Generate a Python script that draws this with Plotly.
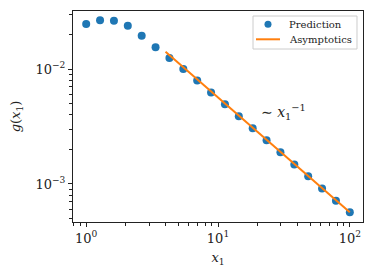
import numpy as np
import plotly.graph_objects as go

# Data
x_pred = [1.0, 1.274, 1.624, 2.069, 2.637, 3.360, 4.281, 5.456, 6.952, 8.859,
          11.29, 14.38, 18.33, 23.36, 29.76, 37.93, 48.33, 61.58, 78.48, 100.0]
y_pred = [0.0247, 0.0266, 0.0264, 0.0239, 0.0195, 0.0155, 0.01248, 0.0100, 0.00796, 0.00626,
          0.00495, 0.00389, 0.00306, 0.00240, 0.00189, 0.00148, 0.00117, 0.000912, 0.000716, 0.000566]
x_asym = [4.0, 100.0]
y_asym = [0.01415, 0.000566]

x_tickvals = [1, 10, 100]
x_ticktext = ["10<sup>0</sup>", "10<sup>1</sup>", "10<sup>2</sup>"]
y_tickvals = [1e-3, 1e-2]
y_ticktext = ["10<sup>−3</sup>", "10<sup>−2</sup>"]
legend_labels = ["Prediction", "Asymptotics"]

x_minor = [m * 10**e for e in range(-1, 3) for m in range(2, 10)]
y_minor = [m * 10**e for e in range(-4, -1) for m in range(2, 10)]

FONT = "DejaVu Serif"
BLUE = "#1f77b4"
ORANGE = "#ff7f0e"

fig = go.Figure()
fig.add_trace(go.Scatter(x=x_pred, y=y_pred, mode="markers", name=legend_labels[0],
                         marker=dict(color=BLUE, size=8), showlegend=False))
fig.add_trace(go.Scatter(x=x_asym, y=y_asym, mode="lines", name=legend_labels[1],
                         line=dict(color=ORANGE, width=2), showlegend=False))

axis_common = dict(type="log", showgrid=False, zeroline=False, showline=True, mirror=True,
                   linecolor="#222", linewidth=1.1, ticks="outside", ticklen=4, tickwidth=1,
                   tickcolor="#222", tickfont=dict(family=FONT, size=13, color="#222"))

fig.update_xaxes(**axis_common, range=[-0.1, 2.1], tickmode="array",
                 tickvals=x_tickvals, ticktext=x_ticktext,
                 minor=dict(tickmode="array", tickvals=x_minor, ticks="outside", ticklen=2.5, tickcolor="#222", tickwidth=0.8),
                 title=dict(text="<i>x</i><sub>1</sub>", font=dict(family=FONT, size=13, color="#222"), standoff=8))
fig.update_yaxes(**axis_common, range=[-3.331, -1.494], tickmode="array",
                 tickvals=y_tickvals, ticktext=y_ticktext,
                 minor=dict(tickmode="array", tickvals=y_minor, ticks="outside", ticklen=2.5, tickcolor="#222", tickwidth=0.8),
                 title=dict(text="<i>g</i>(<i>x</i><sub>1</sub>)", font=dict(family=FONT, size=13, color="#222"), standoff=15))

fig.add_annotation(x=np.log10(20.5), y=-2.375, xref="x", yref="y", text="∼ <i>x</i><sub>1</sub><sup>−1</sup>",
                   showarrow=False, xanchor="left", yanchor="middle",
                   font=dict(family=FONT, size=14, color="#222"))

# Legend (drawn manually for compact matplotlib-like spacing)
fig.add_shape(type="rect", xref="paper", yref="paper", x0=0.6207, x1=0.9793, y0=0.8199, y1=0.9763,
              line=dict(color="#cccccc", width=1), fillcolor="white", layer="above")
fig.add_shape(type="circle", xref="paper", yref="paper", x0=0.6603, x1=0.6845, y0=0.9204, y1=0.9536,
              line=dict(color=BLUE, width=0), fillcolor=BLUE, layer="above")
fig.add_shape(type="line", xref="paper", yref="paper", x0=0.6310, x1=0.7138, y0=0.8659, y1=0.8659,
              line=dict(color=ORANGE, width=2), layer="above")
for lbl, yy in zip(legend_labels, [0.9370, 0.8659]):
    fig.add_annotation(x=0.7379, y=yy, xref="paper", yref="paper", text=lbl, showarrow=False,
                       xanchor="left", yanchor="middle", font=dict(family=FONT, size=10, color="#222"))

fig.update_layout(
    width=366, height=269,
    margin=dict(l=65, r=11, t=3, b=55),
    paper_bgcolor="white", plot_bgcolor="white",
    showlegend=False,
)

fig.write_html("out.html")
